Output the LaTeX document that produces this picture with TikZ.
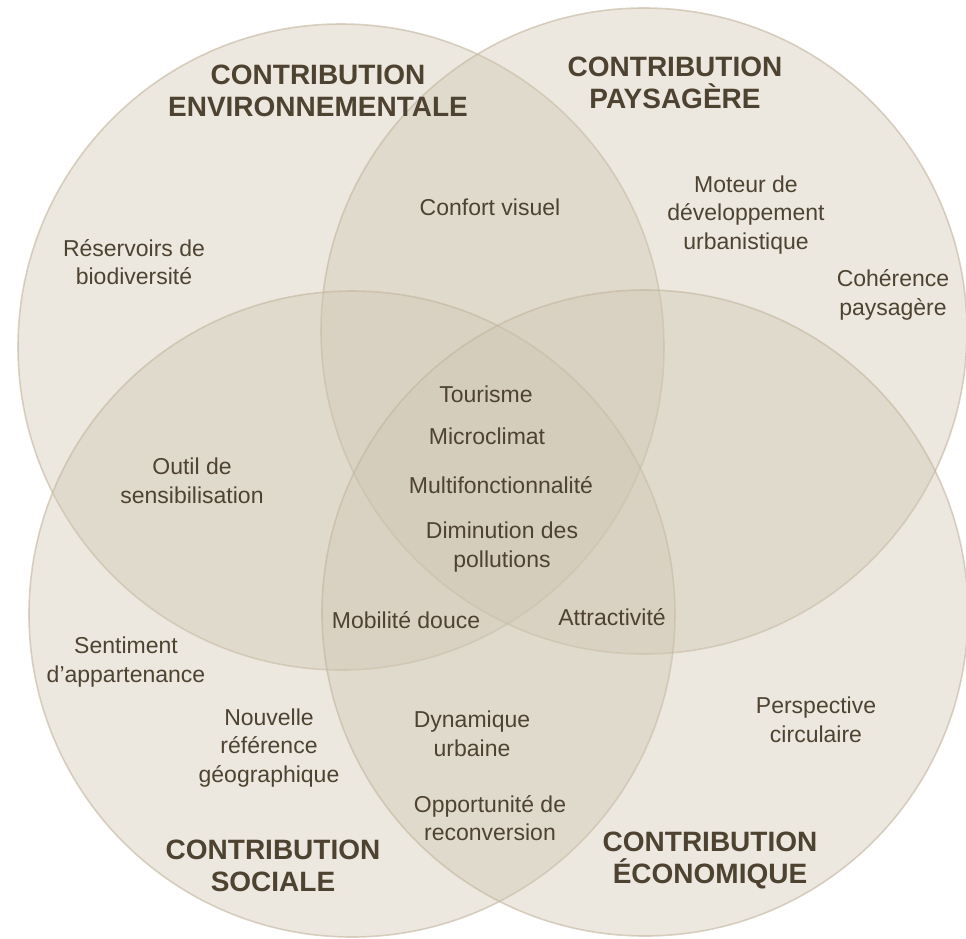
\documentclass[tikz,border=0pt]{standalone}
\usepackage{fontspec}
\setmainfont{Liberation Sans}
\usetikzlibrary{positioning}

\definecolor{sand}{HTML}{CFC5B1}
\definecolor{sandline}{HTML}{C2B59C}
\definecolor{bark}{HTML}{4E4230}

\begin{document}
\begin{tikzpicture}[
    x=1pt, y=-1pt,
    venn/.style={circle, minimum size=646pt, inner sep=0pt, fill=sand, fill opacity=0.4, draw=sandline, draw opacity=0.6, line width=1.6pt},
    title/.style={align=center, text=bark, font=\fontsize{28}{32}\selectfont\bfseries},
    item/.style={align=center, text=bark, font=\fontsize{23}{28.5}\selectfont}
  ]
    \useasboundingbox (0,0) rectangle (966,938);

    % --- Circles ---
    \node[venn] (env) at (341,347) {};
    \node[venn] (pay) at (644,331) {};
    \node[venn] (soc) at (352,614) {};
    \node[venn] (eco) at (645,613) {};

    % --- Titles ---
    \node[title] (tenv) at (318,91) {CONTRIBUTION\\ENVIRONNEMENTALE};
    \node[title] (tpay) at (675,83) {CONTRIBUTION\\PAYSAGÈRE};
    \node[title] (tsoc) at (273,866) {CONTRIBUTION\\SOCIALE};
    \node[title] (teco) at (710,860) {CONTRIBUTION\\ÉCONOMIQUE};

    % --- Environmental / landscape ---
    \node[item] (reserv) at (134,262) {Réservoirs de\\biodiversité};
    \node[item] (confort) at (490,207) {Confort visuel};
    \node[item] (moteur) at (746,215) {Moteur de\\développement\\urbanistique};
    \node[item] (coher) at (893,295) {Cohérence\\paysagère};

    % --- Centre ---
    \node[item] (touris) at (486,394) {Tourisme};
    \node[item] (micro) at (487,436) {Microclimat};
    \node[item] (multi) at (501,485) {Multifonctionnalité};
    \node[item] (dimin) at (502,547) {Diminution des\\pollutions};
    \node[item] (outil) at (192,481) {Outil de\\sensibilisation};
    \node[item] (mobil) at (406,620) {Mobilité douce};
    \node[item] (attract) at (612,617) {Attractivité};

    % --- Social / economic ---
    \node[item] (sentim) at (126,662) {Sentiment\\d’appartenance};
    \node[item] (nouv) at (269,748) {Nouvelle\\référence\\géographique};
    \node[item] (dyna) at (472,734) {Dynamique\\urbaine};
    \node[item] (opport) at (490,818) {Opportunité de\\reconversion};
    \node[item] (persp) at (816,720) {Perspective\\circulaire};

  \end{tikzpicture}
\end{document}
